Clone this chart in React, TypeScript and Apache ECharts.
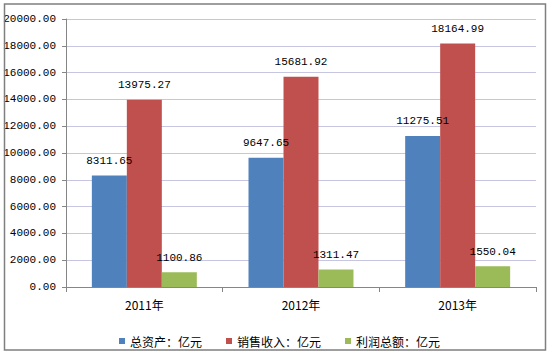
import React, { useEffect, useRef } from "react";
import * as echarts from "echarts";

const categories = ["2011年", "2012年", "2013年"];
const seriesNames = ["总资产：亿元", "销售收入：亿元", "利润总额：亿元"];
const totalAssets = [8311.65, 9647.65, 11275.51];
const salesRevenue = [13975.27, 15681.92, 18164.99];
const totalProfit = [1100.86, 1311.47, 1550.04];
const colors = ["#4F81BD", "#C0504D", "#9BBB59"];

const monoFont = "'Liberation Mono', 'DejaVu Sans Mono', monospace";
const cjkFont = "'Noto Sans CJK SC', sans-serif";

export default function App() {
  const ref = useRef<HTMLDivElement>(null);
  useEffect(() => {
    if (!ref.current) return;
    const chart = echarts.init(ref.current, null, { renderer: "svg" });
    const values = [totalAssets, salesRevenue, totalProfit];
    chart.setOption({
      animation: false,
      backgroundColor: "#ffffff",
      graphic: [
        {
          type: "rect",
          shape: { x: 4.5, y: 4, width: 541, height: 346 },
          style: { fill: "none", stroke: "#7f7f7f", lineWidth: 1.5 },
          z: 100,
        },
      ],
      grid: { left: 66, right: 13, top: 19, bottom: 65 },
      legend: {
        left: 114,
        top: 330,
        itemWidth: 6,
        itemHeight: 6,
        itemGap: 24,
        icon: "rect",
        textStyle: { fontFamily: cjkFont, fontSize: 12, color: "#000", padding: [0, 0, 0, 0] },
        data: seriesNames,
      },
      xAxis: {
        type: "category",
        data: categories,
        axisLine: { lineStyle: { color: "#868686", width: 1 } },
        axisTick: { show: true, length: 5, lineStyle: { color: "#868686" } },
        axisLabel: { color: "#000", fontFamily: cjkFont, fontSize: 12, margin: 11 },
      },
      yAxis: {
        type: "value",
        min: 0,
        max: 20000,
        interval: 2000,
        axisLine: { show: true, lineStyle: { color: "#868686", width: 1 } },
        axisTick: { show: true, length: 4, lineStyle: { color: "#868686" } },
        axisLabel: {
          color: "#000",
          fontFamily: monoFont,
          fontSize: 11,
          margin: 10,
          formatter: (v: number) => v.toFixed(2),
        },
        splitLine: { lineStyle: { color: "#c6c6e2", width: 1 } },
      },
      series: seriesNames.map((name, i) => ({
        name,
        type: "bar",
        data: values[i],
        barGap: "0%",
        barCategoryGap: "33%",
        itemStyle: { color: colors[i] },
        label: {
          show: true,
          position: "top",
          distance: 9,
          color: "#000",
          fontFamily: monoFont,
          fontSize: 11,
          formatter: (p: any) => Number(p.value).toFixed(2),
        },
      })),
    });
    return () => chart.dispose();
  }, []);
  return (
    <div
      ref={ref}
      style={{ position: "absolute", left: 0, top: 0, width: 549, height: 352 }}
    />
  );
}
